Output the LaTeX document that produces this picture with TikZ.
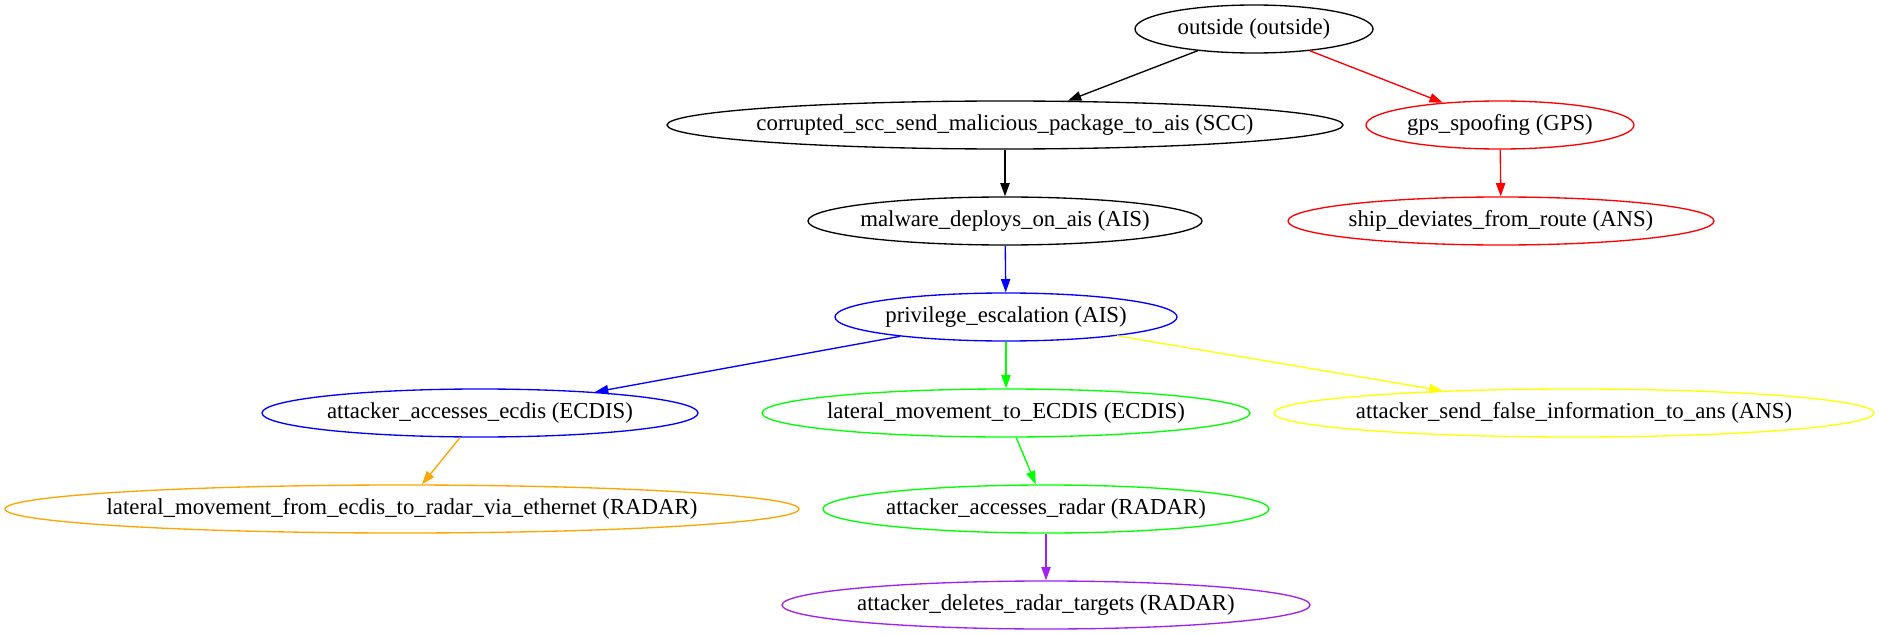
\documentclass[tikz,border=0pt]{standalone}
\usepackage{fontspec}
\setmainfont{Liberation Serif}
\usetikzlibrary{shapes.geometric,arrows.meta}
\definecolor{gvgreen}{HTML}{00FF00}
\definecolor{gvyellow}{HTML}{FFFF00}
\definecolor{gvorange}{HTML}{FFA500}
\definecolor{gvpurple}{HTML}{A020F0}
\definecolor{gvred}{HTML}{FF0000}
\definecolor{gvblue}{HTML}{0000FF}
\newcommand{\zb}[1]{\makebox[0pt]{#1}}
\tikzset{
  gvnode/.style={draw, ellipse, line width=1pt, inner sep=0pt, minimum height=36pt,
    font=\fontsize{17.1}{20}\selectfont},
  gvedge/.style={line width=1pt, -{Triangle[length=10pt,width=7pt]}},
}
\begin{document}
\begin{tikzpicture}[x=0.75pt,y=-0.75pt]
\useasboundingbox (0,0) rectangle (1879,635);
\node[gvnode, minimum width=178.5pt] (outside) at (1254,29) {\zb{outside (outside)}};
\node[gvnode, minimum width=507pt] (scc) at (1005,125) {\zb{corrupted\_scc\_send\_malicious\_package\_to\_ais (SCC)}};
\node[gvnode, draw=gvred, minimum width=201pt] (gps) at (1500,125) {\zb{gps\_spoofing (GPS)}};
\node[gvnode, minimum width=295.5pt] (malware) at (1005,221) {\zb{malware\_deploys\_on\_ais (AIS)}};
\node[gvnode, draw=gvred, minimum width=319.5pt] (ship) at (1501,221) {\zb{ship\_deviates\_from\_route (ANS)}};
\node[gvnode, draw=gvblue, minimum width=256.5pt] (priv) at (1006,317) {\zb{privilege\_escalation (AIS)}};
\node[gvnode, draw=gvblue, minimum width=327pt] (ecdis) at (480,413) {\zb{attacker\_accesses\_ecdis (ECDIS)}};
\node[gvnode, draw=gvgreen, minimum width=366pt] (latto) at (1006,413) {\zb{lateral\_movement\_to\_ECDIS (ECDIS)}};
\node[gvnode, draw=gvyellow, minimum width=450pt] (sendf) at (1574,413) {\zb{attacker\_send\_false\_information\_to\_ans (ANS)}};
\node[gvnode, draw=gvorange, minimum width=595.5pt] (latfrom) at (402,509) {\zb{lateral\_movement\_from\_ecdis\_to\_radar\_via\_ethernet (RADAR)}};
\node[gvnode, draw=gvgreen, minimum width=334.5pt] (radar) at (1046,509) {\zb{attacker\_accesses\_radar (RADAR)}};
\node[gvnode, draw=gvpurple, minimum width=396pt] (del) at (1046,605) {\zb{attacker\_deletes\_radar\_targets (RADAR)}};

\draw[gvedge] (outside) -- (scc);
\draw[gvedge, gvred] (outside) -- (gps);
\draw[gvedge, gvred] (gps) -- (ship);
\draw[gvedge] (scc) -- (malware);
\draw[gvedge, gvblue] (malware) -- (priv);
\draw[gvedge, gvblue] (priv) -- (ecdis);
\draw[gvedge, gvgreen] (priv) -- (latto);
\draw[gvedge, gvyellow] (priv) -- (sendf);
\draw[gvedge, gvorange] (ecdis) -- (latfrom);
\draw[gvedge, gvgreen] (latto) -- (radar);
\draw[gvedge, gvpurple] (radar) -- (del);
\end{tikzpicture}
\end{document}
